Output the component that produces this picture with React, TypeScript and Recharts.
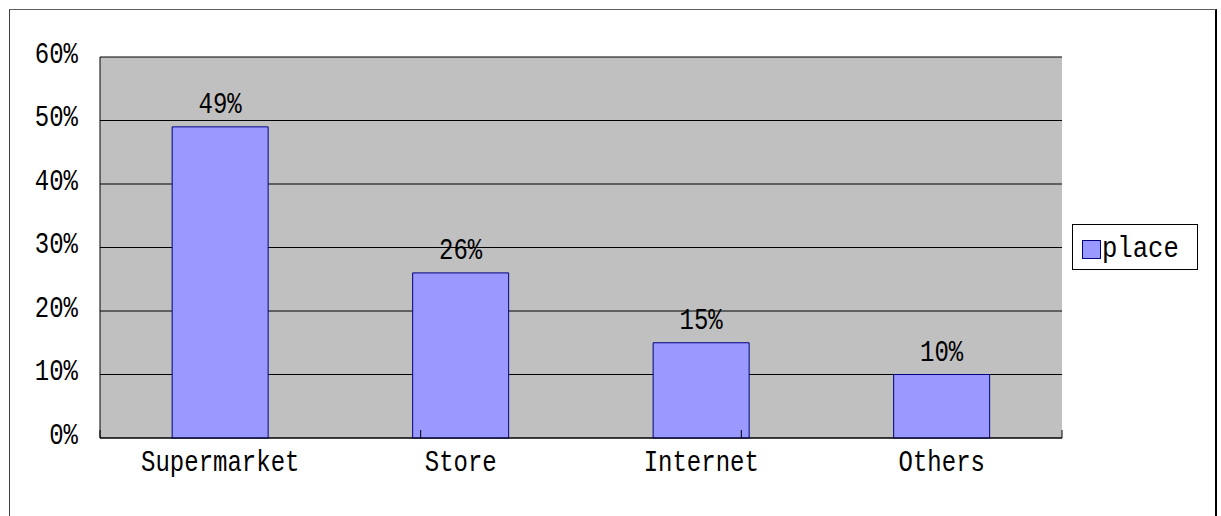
import {
  Bar,
  BarChart,
  CartesianGrid,
  LabelList,
  Legend,
  ReferenceLine,
  XAxis,
  YAxis
} from 'recharts'

const categories = ['Supermarket', 'Store', 'Internet', 'Others']
const placeShare = [49, 26, 15, 10]
const percentTicks = [0, 10, 20, 30, 40, 50, 60]
const categoryBounds = [0, 1, 2, 3, 4]

const data = categories.map((name, i) => ({ name, place: placeShare[i] }))

const FONT = '"Liberation Mono", "DejaVu Sans Mono", monospace'

function TallText({ x, y, anchor, sx = 0.833, children }: any) {
  return (
    <g transform={`translate(${x},${y}) scale(${sx},1)`}>
      <text x={0} y={0} textAnchor={anchor} fontFamily={FONT} fontSize={28.8} fill="#000">
        {children}
      </text>
    </g>
  )
}

function PercentTick({ x, y, payload }: any) {
  return (
    <TallText x={x} y={y + 5.5} anchor="end">
      {payload.value}%
    </TallText>
  )
}

function CategoryTick({ x, y, payload }: any) {
  return (
    <TallText x={x} y={y + 33} anchor="middle">
      {payload.value}
    </TallText>
  )
}

function BarValueLabel(props: any) {
  const { x, y, width, value } = props
  return (
    <TallText x={Number(x) + Number(width) / 2} y={Number(y) - 14} anchor="middle">
      {value}%
    </TallText>
  )
}

function PlaceLegend({ payload }: any) {
  const label = payload && payload[0] ? payload[0].value : 'place'
  return (
    <div
      style={{
        boxSizing: 'border-box',
        width: 126,
        height: 46,
        border: '1px solid #000',
        background: '#fff'
      }}
    >
      <svg width={124} height={44} style={{ display: 'block' }}>
        <rect x={9.5} y={15.5} width={18} height={18} fill="#9999ff" stroke="#000080" />
        <TallText x={29} y={32} anchor="start" sx={0.89}>
          {label}
        </TallText>
      </svg>
    </div>
  )
}

export default function App() {
  return (
    <div
      style={{
        position: 'fixed',
        left: 9,
        top: 9,
        boxSizing: 'border-box',
        width: 1208,
        height: 520,
        borderTop: '1px solid #606060',
        borderLeft: '1px solid #404040',
        borderRight: '2px solid #000',
        background: '#fff'
      }}
    >
      <BarChart
        width={1205}
        height={496}
        data={data}
        barCategoryGap="30%"
        margin={{ top: 47, right: 153, left: 0, bottom: 67 }}
      >
        <CartesianGrid vertical={false} fill="#c0c0c0" stroke="#000" fillOpacity={1} />
        <XAxis
          xAxisId="bounds"
          type="number"
          domain={[0, categories.length]}
          ticks={categoryBounds}
          allowDataOverflow
          height={1}
          mirror
          axisLine={false}
          tickSize={8}
          tickLine={{ stroke: '#000' }}
          tickFormatter={() => ''}
        />
        <XAxis
          dataKey="name"
          height={1}
          tickSize={0}
          tickMargin={0}
          tickLine={false}
          axisLine={{ stroke: '#000' }}
          tick={<CategoryTick />}
          interval={0}
        />
        <YAxis
          width={90}
          domain={[0, 60]}
          ticks={percentTicks}
          tickLine={false}
          tickSize={0}
          tickMargin={22}
          axisLine={{ stroke: '#000' }}
          tick={<PercentTick />}
          interval={0}
        />
        <ReferenceLine xAxisId="bounds" x={categories.length} stroke="#333" />
        <Legend
          layout="horizontal"
          verticalAlign="middle"
          align="center"
          wrapperStyle={{ left: 1062, top: 214, width: 126, height: 46 }}
          content={<PlaceLegend />}
        />
        <Bar
          dataKey="place"
          name="place"
          fill="#9999ff"
          stroke="#000080"
          strokeWidth={1}
          isAnimationActive={false}
        >
          <LabelList dataKey="place" content={<BarValueLabel />} />
        </Bar>
      </BarChart>
    </div>
  )
}
